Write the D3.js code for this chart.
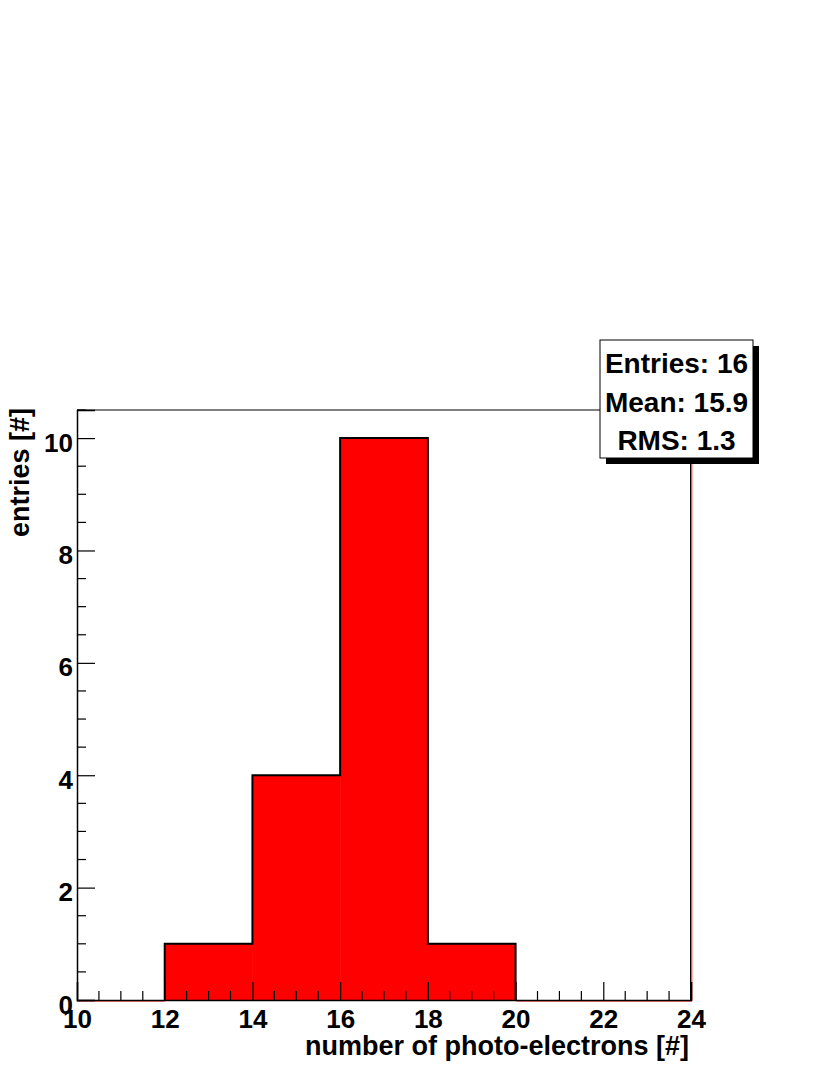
<!DOCTYPE html>
<html>
<head>
<meta charset="utf-8">
<script src="https://cdn.jsdelivr.net/npm/d3@7"></script>
<style>
  body { margin: 0; background: #fff; }
  svg text { font-family: "Liberation Sans", Arial, Helvetica, sans-serif; font-weight: bold; fill: #000; }
</style>
</head>
<body>
<div id="chart"></div>
<script>
// histogram bins (lower edges) and contents
var binEdges = [10, 12, 14, 16, 18, 20, 22, 24];
var binCounts = [0, 1, 4, 10, 1, 0, 0];
var xTicks = [10, 12, 14, 16, 18, 20, 22, 24];
var yTicks = [0, 2, 4, 6, 8, 10];
var statsLines = ["Entries: 16", "Mean: 15.9", "RMS: 1.3"];

var width = 830, height = 1075;
var frame = {left: 77, right: 691, top: 410, bottom: 1000};

var svg = d3.select("#chart").append("svg")
    .attr("width", width)
    .attr("height", height);

var x = d3.scaleLinear().domain([10, 24]).range([frame.left, frame.right]);
var y = d3.scaleLinear().domain([0, 10.5]).range([frame.bottom, frame.top]);

// filled histogram
var bins = binCounts.map(function(c, i) { return {x0: binEdges[i], x1: binEdges[i + 1], n: c}; });

svg.append("g").selectAll("rect")
    .data(bins.filter(function(d) { return d.n > 0; }))
    .enter().append("rect")
    .attr("x", function(d) { return x(d.x0); })
    .attr("y", function(d) { return y(d.n); })
    .attr("width", function(d) { return x(d.x1) - x(d.x0) + 0.5; })
    .attr("height", function(d) { return y(0) - y(d.n); })
    .attr("fill", "#ff0000");

var line = d3.line().x(function(d) { return x(d[0]); }).y(function(d) { return y(d[1]); });

// frame: top and right lines
svg.append("line")
    .attr("x1", frame.left).attr("x2", frame.right)
    .attr("y1", frame.top).attr("y2", frame.top)
    .attr("stroke", "#000").attr("stroke-width", 1);
svg.append("line")
    .attr("x1", frame.right - 0.5).attr("x2", frame.right - 0.5)
    .attr("y1", frame.top).attr("y2", frame.bottom)
    .attr("stroke", "#000").attr("stroke-width", 1);

// red outline along empty bins and right edge
svg.append("path")
    .attr("d", line([[10, 0], [12, 0]]))
    .attr("transform", "translate(0,1)")
    .attr("stroke", "#ff0000").attr("stroke-width", 1).attr("fill", "none");
svg.append("path")
    .attr("d", line([[20, 0], [24, 0], [24, 10.5]]))
    .attr("transform", "translate(0.8,1)")
    .attr("stroke", "#ff0000").attr("stroke-width", 1).attr("fill", "none");

// black step outline of the non-empty part
var pts = [[12, 0]];
bins.forEach(function(d) {
    if (d.x0 >= 12 && d.x1 <= 20) { pts.push([d.x0, d.n]); pts.push([d.x1, d.n]); }
});
pts.push([20, 0]);
svg.append("path")
    .attr("d", line(pts))
    .attr("stroke", "#000").attr("stroke-width", 2).attr("fill", "none");

// axes
var xAxis = d3.axisBottom(x).tickValues(xTicks).tickSize(-18).tickPadding(0).tickFormat(d3.format("d"));
var gx = svg.append("g").attr("transform", "translate(0," + frame.bottom + ")").call(xAxis);
gx.select(".domain").attr("stroke", "#000").attr("stroke-width", 1.5);
gx.selectAll(".tick line").attr("stroke", "#000").attr("stroke-width", 1.2);
gx.selectAll(".tick text")
    .attr("y", 28).attr("dy", 0)
    .style("font-size", "26px");

var xMinor = d3.range(10, 24.01, 0.5).filter(function(v) { return v % 2 !== 0; });
svg.append("g").selectAll("line")
    .data(xMinor).enter().append("line")
    .attr("x1", function(d) { return x(d); }).attr("x2", function(d) { return x(d); })
    .attr("y1", frame.bottom).attr("y2", frame.bottom - 9)
    .attr("stroke", "#000").attr("stroke-width", 1.2);

var yAxis = d3.axisLeft(y).tickValues(yTicks).tickSize(-18).tickPadding(0).tickFormat(d3.format("d"));
var gy = svg.append("g").attr("transform", "translate(" + frame.left + ",0)").call(yAxis);
gy.select(".domain").attr("stroke", "#000").attr("stroke-width", 1.5);
gy.selectAll(".tick line").attr("stroke", "#000").attr("stroke-width", 1.2);
gy.selectAll(".tick text")
    .attr("x", -4).attr("dy", "0.5em")
    .style("font-size", "26px");

var yMinor = d3.range(0, 10.51, 0.5).filter(function(v) { return v % 2 !== 0; });
svg.append("g").selectAll("line")
    .data(yMinor).enter().append("line")
    .attr("x1", frame.left).attr("x2", frame.left + 9)
    .attr("y1", function(d) { return y(d); }).attr("y2", function(d) { return y(d); })
    .attr("stroke", "#000").attr("stroke-width", 1.2);

// axis titles
svg.append("text")
    .attr("x", frame.right - 2).attr("y", 1055)
    .attr("text-anchor", "end")
    .style("font-size", "27px")
    .text("number of photo-electrons [#]");

svg.append("text")
    .attr("transform", "translate(29," + (frame.top - 2) + ") rotate(-90)")
    .attr("text-anchor", "end")
    .style("font-size", "27px")
    .text("entries [#]");

// stats box with shadow
var box = {x: 600, y: 340, w: 153, h: 118, shadow: 6};
svg.append("rect")
    .attr("x", box.x + box.shadow).attr("y", box.y + box.shadow)
    .attr("width", box.w).attr("height", box.h)
    .attr("fill", "#000");
svg.append("rect")
    .attr("x", box.x).attr("y", box.y)
    .attr("width", box.w).attr("height", box.h)
    .attr("fill", "#fff").attr("stroke", "#000").attr("stroke-width", 1);

svg.append("g").selectAll("text")
    .data(statsLines).enter().append("text")
    .attr("x", box.x + box.w / 2)
    .attr("y", function(d, i) { return box.y + 33 + i * 38.5; })
    .attr("text-anchor", "middle")
    .style("font-size", "28px")
    .text(function(d) { return d; });
</script>
</body>
</html>
